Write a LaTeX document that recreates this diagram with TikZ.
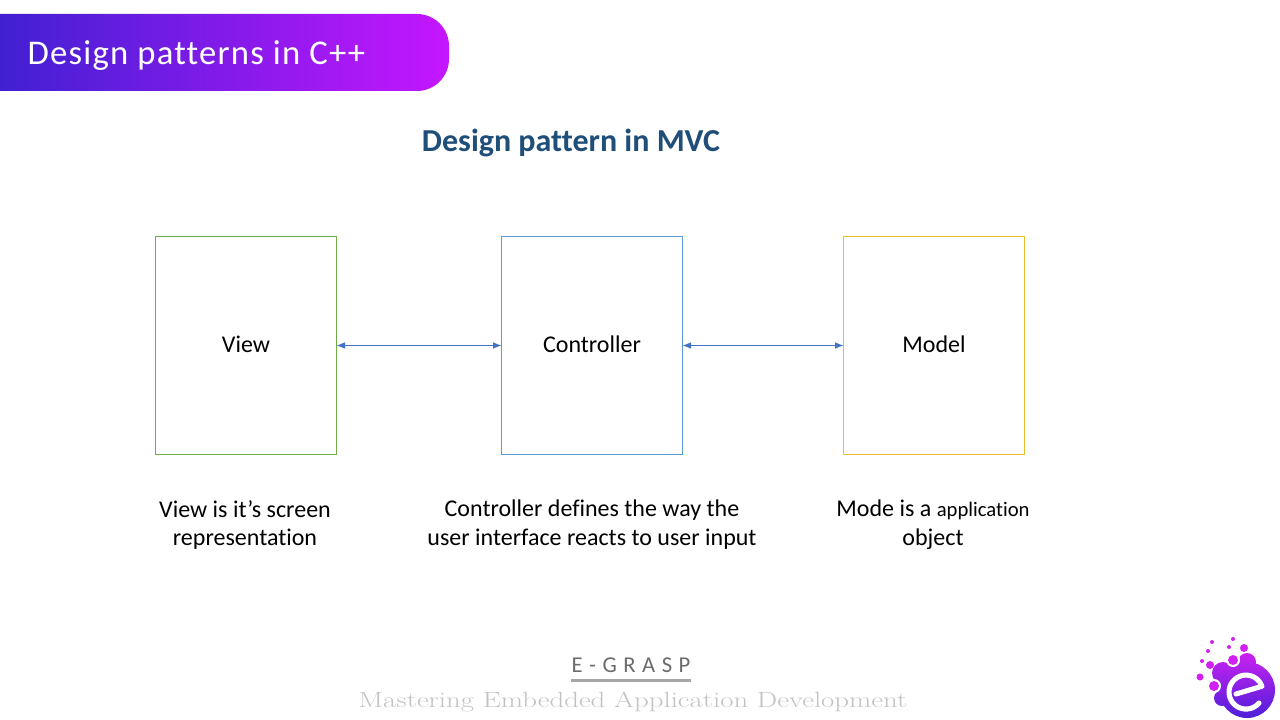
\documentclass[tikz,border=0pt]{standalone}
\usepackage{fontspec}
\setsansfont{Carlito}[Ligatures=NoCommon]
\renewcommand{\familydefault}{\sfdefault}
\usetikzlibrary{arrows.meta}
\definecolor{barl}{HTML}{4120D2}
\definecolor{barr}{HTML}{C516FF}
\definecolor{headc}{HTML}{1F4E79}
\definecolor{viewc}{HTML}{70AD47}
\definecolor{ctrlc}{HTML}{5B9BD5}
\definecolor{modelc}{HTML}{E8C02C}
\definecolor{linkc}{HTML}{4472C4}
\definecolor{logot}{HTML}{D021F2}
\definecolor{logob}{HTML}{4A20D8}
\tikzstyle{box}=[draw,line width=0.75pt,minimum width=135.75pt,minimum height=163pt,text depth=2pt,font=\fontsize{18}{20}\selectfont]
\tikzstyle{txt}=[align=center,font=\fontsize{18}{21.7}\selectfont]
\tikzstyle{link}=[{Latex[length=6.5pt,width=5pt]}-{Latex[length=6.5pt,width=5pt]},linkc,line width=0.75pt,shorten >=-0.5pt,shorten <=-0.5pt]

\begin{document}
\begin{tikzpicture}[x=0.75pt,y=-0.75pt]
\useasboundingbox (0,0) rectangle (1280,720);

\shade [left color=barl, right color=barr] (0,14) [rounded corners=24pt] -- (449,14) -- (449,91) [sharp corners] -- (0,91) -- cycle;
\node (bar) [anchor=west, white, font=\fontsize{26}{30}\selectfont] at (23,56) {\addfontfeatures{LetterSpace=3.5}Design patterns in C++};

\node (head) [headc, font=\fontsize{24}{28}\bfseries] at (571,143) {Design pattern in MVC};

\node (view) [box, draw=viewc] at (246,345.5) {View};
\node (ctrl) [box, draw=ctrlc] at (592,345.5) {Controller};
\node (model) [box, draw=modelc] at (934,345.5) {Model};

\draw [link] (view) -- (ctrl);
\draw [link] (ctrl) -- (model);

\node (viewtxt) [txt] at (245,525) {View is it’s screen\\representation};
\node (ctrltxt) [txt] at (592,525) {Controller defines the way the\\user interface reacts to user input};
\node (modeltxt) [txt] at (933,525) {Mode is a {\fontsize{15.5}{20}\selectfont application}\\object};

\node (grasp) [text=black!58, font=\fontsize{17}{20}\selectfont] at (631,665) {\addfontfeatures{LetterSpace=6}E - G R A S P};
\coordinate (ulstart) at (571,680.5);
\coordinate (ulend) at (691,680.5);
\draw [black!35, line width=2.4pt] (ulstart) -- (ulend);
\node (motto) [text=black!24, xscale=1.31, transform shape, font=\rmfamily\fontsize{16.5}{20}\selectfont] at (633,702) {\addfontfeatures{LetterSpace=6}Mastering Embedded Application Development};

\begin{scope}
\clip (1247,690) circle (28) (1223,673) circle (11) (1247,662) circle (9) (1222,698) circle (8);
\shade [top color=logot, bottom color=logob] (1195,650) rectangle (1280,720);
\end{scope}

\fill [white] (1233,660) circle (7);
\fill [white] (1214,686) circle (7);
\fill [logot] (1233,660) circle (5);
\fill [logot] (1214,686) circle (5);
\fill [logot] (1210,665) circle (4);
\fill [logot] (1200,677) circle (3.5);
\fill [logot] (1244,648) circle (4);
\fill [logot] (1229,647) circle (2);
\fill [logot] (1233,639) circle (2);
\fill [logot] (1212,642) circle (2);
\fill [logot] (1208,651) circle (2);
\fill [logot] (1202,661) circle (2);

\draw [white, line width=3.8pt, line cap=round, line join=round] (1259,703) arc (40:340:17) -- (1236,694);
\end{tikzpicture}
\end{document}
